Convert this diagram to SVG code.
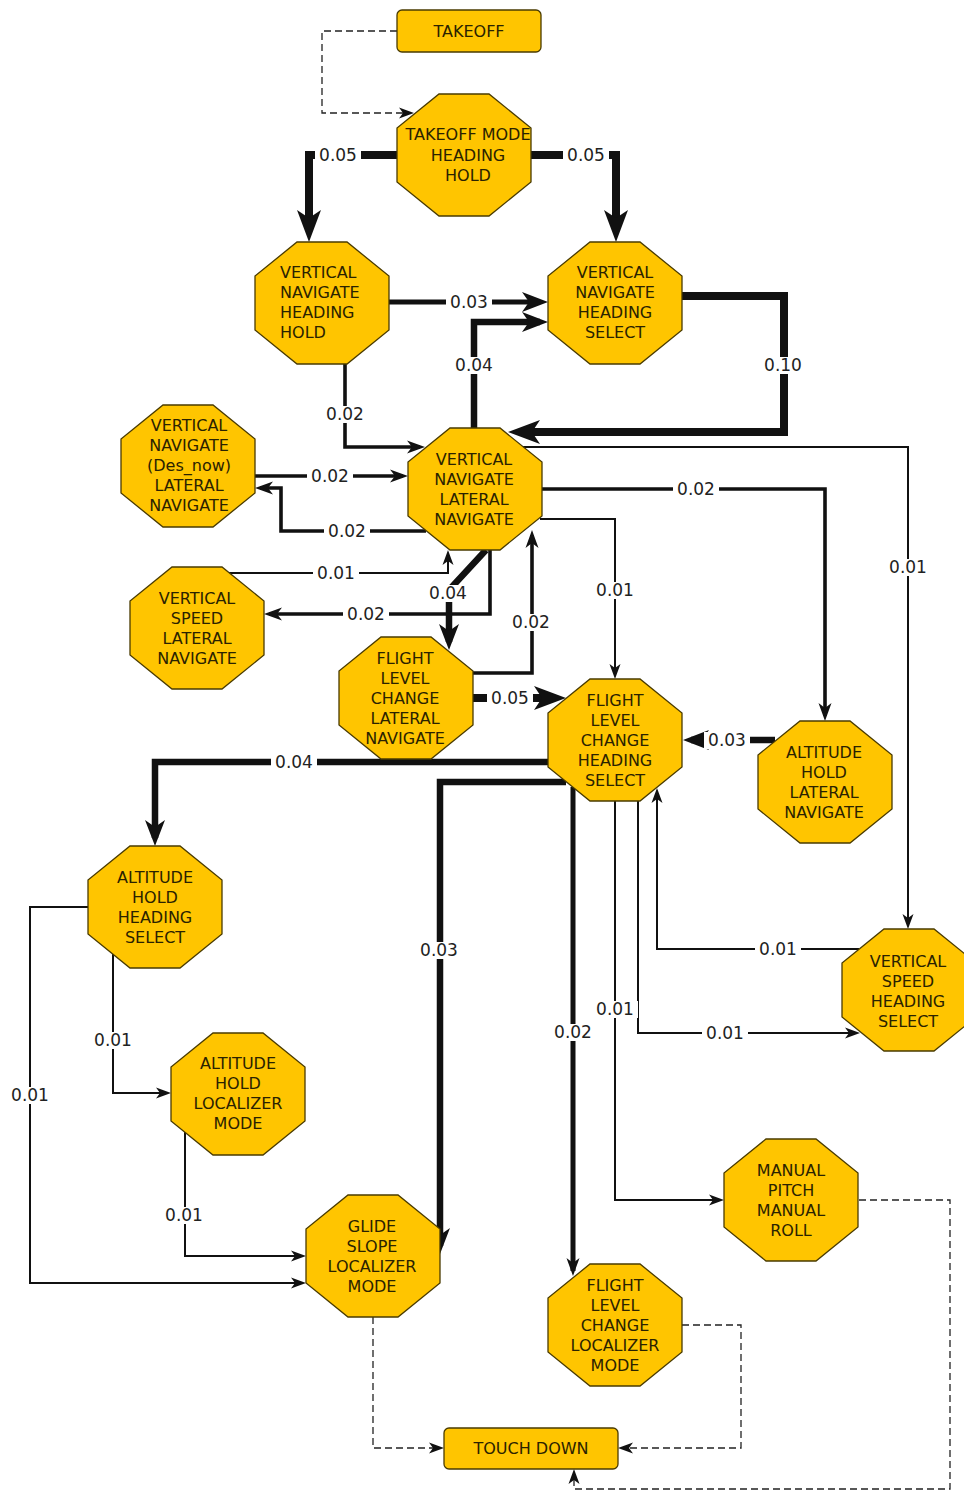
<svg xmlns="http://www.w3.org/2000/svg" xmlns:xlink="http://www.w3.org/1999/xlink" width="964" height="1492" viewBox="0 0 964 1492">
<style>
.oct{fill:#FFC500;stroke:#4a3b00;stroke-width:1.3}
.box{fill:#FFC500;stroke:#4a3b00;stroke-width:1.3}
.nt{font-family:"DejaVu Sans",sans-serif;font-size:16px;fill:#2a2200;text-anchor:middle}
.ntl{font-family:"DejaVu Sans",sans-serif;font-size:16px;fill:#2a2200;text-anchor:start}
.e{fill:none;stroke:#111;stroke-linejoin:miter;stroke-linecap:butt}
.w1{stroke-width:2}
.w2{stroke-width:3.6}
.w3{stroke-width:5}
.w4{stroke-width:6.5}
.w5{stroke-width:8}
.d{stroke-width:1.3;stroke-dasharray:7 4;stroke:#222}
.lb{fill:#fff}
.lt{font-family:"DejaVu Sans",sans-serif;font-size:17px;fill:#222;text-anchor:middle}
</style>
<defs>
<polygon id="oct" class="oct" points="42,0 92,0 134,34 134,88 92,122 42,122 0,88 0,34"/>
<marker id="s" markerUnits="userSpaceOnUse" viewBox="0 -6 16 12" markerWidth="16" markerHeight="12" refX="12" refY="0" orient="auto"><path d="M0,-5.5 L15,0 L0,5.5 L4,0 z" fill="#111"/></marker>
<marker id="m" markerUnits="userSpaceOnUse" viewBox="0 -7 19 14" markerWidth="19" markerHeight="14" refX="13" refY="0" orient="auto"><path d="M0,-6.5 L18,0 L0,6.5 L5,0 z" fill="#111"/></marker>
<marker id="l" markerUnits="userSpaceOnUse" viewBox="0 -11 27 22" markerWidth="27" markerHeight="22" refX="18" refY="0" orient="auto"><path d="M0,-10 L26,0 L0,10 L7,0 z" fill="#111"/></marker>
<marker id="xl" markerUnits="userSpaceOnUse" viewBox="0 -13 33 26" markerWidth="33" markerHeight="26" refX="20" refY="0" orient="auto"><path d="M0,-12 L32,0 L0,12 L8,0 z" fill="#111"/></marker>
</defs>
<rect width="964" height="1492" fill="#fff"/>

<g id="connectors">
<path class="e d" d="M397,31 H322 V113 H411" marker-end="url(#s)"/>
<path class="e w5" d="M397,155 H309 V230" marker-end="url(#xl)"/>
<path class="e w5" d="M531,155 H616 V230" marker-end="url(#xl)"/>
<path class="e w3" d="M389,302 H540" marker-end="url(#l)"/>
<path class="e w5" d="M682,296 H784 V432 H520" marker-end="url(#xl)"/>
<path class="e w4" d="M474,428 V322 H540" marker-end="url(#l)"/>
<path class="e w2" d="M345,363 V447 H420" marker-end="url(#m)"/>
<path class="e w2" d="M255,476 H403" marker-end="url(#m)"/>
<path class="e w2" d="M426,531 H281 V488 H260" marker-end="url(#m)"/>
<path class="e w1" d="M229,573 H448 V553" marker-end="url(#s)"/>
<path class="e w2" d="M490,550 V614 H269" marker-end="url(#m)"/>
<path class="e w4" d="M486,550 L449,590 V642" marker-end="url(#l)"/>
<path class="e w2" d="M473,673 H532 V535" marker-end="url(#m)"/>
<path class="e w5" d="M473,698 H554" marker-end="url(#xl)"/>
<path class="e w1" d="M540,519 H615 V676" marker-end="url(#s)"/>
<path class="e w2" d="M542,489 H825 V716" marker-end="url(#m)"/>
<path class="e w1" d="M523,447 H908 V926" marker-end="url(#s)"/>
<path class="e w4" d="M775,740 H691" marker-end="url(#l)"/>
<path class="e w4" d="M548,762 H155 V838" marker-end="url(#l)"/>
<path class="e w4" d="M566,782 H440 V1246" marker-end="url(#l)"/>
<path class="e w3" d="M573,787 V1271" marker-end="url(#m)"/>
<path class="e w1" d="M615,801 V1200 H721" marker-end="url(#s)"/>
<path class="e w1" d="M638,801 V1033 H857" marker-end="url(#s)"/>
<path class="e w1" d="M859,949 H657 V791" marker-end="url(#s)"/>
<path class="e w1" d="M113,954 V1093 H168" marker-end="url(#s)"/>
<path class="e w1" d="M88,907 H30 V1283 H303" marker-end="url(#s)"/>
<path class="e w1" d="M185,1132 V1256 H303" marker-end="url(#s)"/>
<path class="e d" d="M373,1317 V1448 H441" marker-end="url(#s)"/>
<path class="e d" d="M682,1325 H741 V1448 H621" marker-end="url(#s)"/>
<path class="e d" d="M859,1200 H950 V1489 H574 V1472" marker-end="url(#s)"/>
<g id="labels">
<rect class="lb" x="315" y="147" width="46" height="17"/><text class="lt" x="338" y="161">0.05</text>
<rect class="lb" x="563" y="147" width="46" height="17"/><text class="lt" x="586" y="161">0.05</text>
<rect class="lb" x="446" y="294" width="46" height="17"/><text class="lt" x="469" y="308">0.03</text>
<rect class="lb" x="760" y="357" width="46" height="17"/><text class="lt" x="783" y="371">0.10</text>
<rect class="lb" x="451" y="357" width="46" height="17"/><text class="lt" x="474" y="371">0.04</text>
<rect class="lb" x="322" y="406" width="46" height="17"/><text class="lt" x="345" y="420">0.02</text>
<rect class="lb" x="307" y="468" width="46" height="17"/><text class="lt" x="330" y="482">0.02</text>
<rect class="lb" x="324" y="523" width="46" height="17"/><text class="lt" x="347" y="537">0.02</text>
<rect class="lb" x="313" y="565" width="46" height="17"/><text class="lt" x="336" y="579">0.01</text>
<rect class="lb" x="343" y="606" width="46" height="17"/><text class="lt" x="366" y="620">0.02</text>
<rect class="lb" x="425" y="585" width="46" height="17"/><text class="lt" x="448" y="599">0.04</text>
<rect class="lb" x="508" y="614" width="46" height="17"/><text class="lt" x="531" y="628">0.02</text>
<rect class="lb" x="487" y="690" width="46" height="17"/><text class="lt" x="510" y="704">0.05</text>
<rect class="lb" x="592" y="582" width="46" height="17"/><text class="lt" x="615" y="596">0.01</text>
<rect class="lb" x="673" y="481" width="46" height="17"/><text class="lt" x="696" y="495">0.02</text>
<rect class="lb" x="885" y="559" width="46" height="17"/><text class="lt" x="908" y="573">0.01</text>
<rect class="lb" x="704" y="732" width="46" height="17"/><text class="lt" x="727" y="746">0.03</text>
<rect class="lb" x="271" y="754" width="46" height="17"/><text class="lt" x="294" y="768">0.04</text>
<rect class="lb" x="416" y="942" width="46" height="17"/><text class="lt" x="439" y="956">0.03</text>
<rect class="lb" x="550" y="1024" width="46" height="17"/><text class="lt" x="573" y="1038">0.02</text>
<rect class="lb" x="592" y="1001" width="46" height="17"/><text class="lt" x="615" y="1015">0.01</text>
<rect class="lb" x="702" y="1025" width="46" height="17"/><text class="lt" x="725" y="1039">0.01</text>
<rect class="lb" x="755" y="941" width="46" height="17"/><text class="lt" x="778" y="955">0.01</text>
<rect class="lb" x="90" y="1032" width="46" height="17"/><text class="lt" x="113" y="1046">0.01</text>
<rect class="lb" x="7" y="1087" width="46" height="17"/><text class="lt" x="30" y="1101">0.01</text>
<rect class="lb" x="161" y="1207" width="46" height="17"/><text class="lt" x="184" y="1221">0.01</text>
</g>
</g>

<g id="takeoff"><rect class="box" x="397" y="10" width="144" height="42" rx="5"/><text class="nt" x="469" y="37">TAKEOFF</text></g>
<g id="takeoff-mode-heading-hold"><use href="#oct" x="397" y="94"/><text class="nt" x="468" y="140">TAKEOFF MODE<tspan x="468" dy="20.5">HEADING</tspan><tspan x="468" dy="20.5">HOLD</tspan></text></g>
<g id="vn-heading-hold"><use href="#oct" x="255" y="242"/><text class="ntl" x="280" y="278">VERTICAL<tspan x="280" dy="20">NAVIGATE</tspan><tspan x="280" dy="20">HEADING</tspan><tspan x="280" dy="20">HOLD</tspan></text></g>
<g id="vn-heading-select"><use href="#oct" x="548" y="242"/><text class="nt" x="615" y="278">VERTICAL<tspan x="615" dy="20">NAVIGATE</tspan><tspan x="615" dy="20">HEADING</tspan><tspan x="615" dy="20">SELECT</tspan></text></g>
<g id="vn-desnow-lateral-navigate"><use href="#oct" x="121" y="405"/><text class="nt" x="189" y="431">VERTICAL<tspan x="189" dy="20">NAVIGATE</tspan><tspan x="189" dy="20">(Des_now)</tspan><tspan x="189" dy="20">LATERAL</tspan><tspan x="189" dy="20">NAVIGATE</tspan></text></g>
<g id="vn-lateral-navigate"><use href="#oct" x="408" y="428"/><text class="nt" x="474" y="465">VERTICAL<tspan x="474" dy="20">NAVIGATE</tspan><tspan x="474" dy="20">LATERAL</tspan><tspan x="474" dy="20">NAVIGATE</tspan></text></g>
<g id="vs-lateral-navigate"><use href="#oct" x="130" y="567"/><text class="nt" x="197" y="604">VERTICAL<tspan x="197" dy="20">SPEED</tspan><tspan x="197" dy="20">LATERAL</tspan><tspan x="197" dy="20">NAVIGATE</tspan></text></g>
<g id="flc-lateral-navigate"><use href="#oct" x="339" y="637"/><text class="nt" x="405" y="664">FLIGHT<tspan x="405" dy="20">LEVEL</tspan><tspan x="405" dy="20">CHANGE</tspan><tspan x="405" dy="20">LATERAL</tspan><tspan x="405" dy="20">NAVIGATE</tspan></text></g>
<g id="flc-heading-select"><use href="#oct" x="548" y="679"/><text class="nt" x="615" y="706">FLIGHT<tspan x="615" dy="20">LEVEL</tspan><tspan x="615" dy="20">CHANGE</tspan><tspan x="615" dy="20">HEADING</tspan><tspan x="615" dy="20">SELECT</tspan></text></g>
<g id="ah-lateral-navigate"><use href="#oct" x="758" y="721"/><text class="nt" x="824" y="758">ALTITUDE<tspan x="824" dy="20">HOLD</tspan><tspan x="824" dy="20">LATERAL</tspan><tspan x="824" dy="20">NAVIGATE</tspan></text></g>
<g id="ah-heading-select"><use href="#oct" x="88" y="846"/><text class="nt" x="155" y="883">ALTITUDE<tspan x="155" dy="20">HOLD</tspan><tspan x="155" dy="20">HEADING</tspan><tspan x="155" dy="20">SELECT</tspan></text></g>
<g id="vs-heading-select"><use href="#oct" x="842" y="929"/><text class="nt" x="908" y="967">VERTICAL<tspan x="908" dy="20">SPEED</tspan><tspan x="908" dy="20">HEADING</tspan><tspan x="908" dy="20">SELECT</tspan></text></g>
<g id="ah-localizer-mode"><use href="#oct" x="171" y="1033"/><text class="nt" x="238" y="1069">ALTITUDE<tspan x="238" dy="20">HOLD</tspan><tspan x="238" dy="20">LOCALIZER</tspan><tspan x="238" dy="20">MODE</tspan></text></g>
<g id="manual-pitch-manual-roll"><use href="#oct" x="724" y="1139"/><text class="nt" x="791" y="1176">MANUAL<tspan x="791" dy="20">PITCH</tspan><tspan x="791" dy="20">MANUAL</tspan><tspan x="791" dy="20">ROLL</tspan></text></g>
<g id="glide-slope-localizer-mode"><use href="#oct" x="306" y="1195"/><text class="nt" x="372" y="1232">GLIDE<tspan x="372" dy="20">SLOPE</tspan><tspan x="372" dy="20">LOCALIZER</tspan><tspan x="372" dy="20">MODE</tspan></text></g>
<g id="flc-localizer-mode"><use href="#oct" x="548" y="1264"/><text class="nt" x="615" y="1291">FLIGHT<tspan x="615" dy="20">LEVEL</tspan><tspan x="615" dy="20">CHANGE</tspan><tspan x="615" dy="20">LOCALIZER</tspan><tspan x="615" dy="20">MODE</tspan></text></g>
<g id="touch-down"><rect class="box" x="444" y="1428" width="174" height="41" rx="5"/><text class="nt" x="531" y="1454">TOUCH DOWN</text></g>
</svg>
